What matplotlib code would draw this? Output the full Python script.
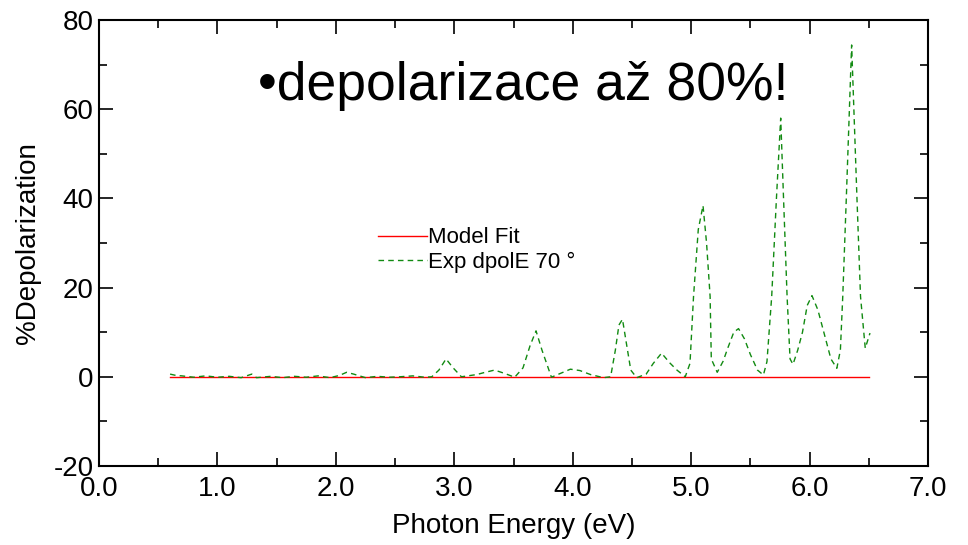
import matplotlib
matplotlib.use("Agg")
import matplotlib.pyplot as plt
from matplotlib.ticker import MultipleLocator

plt.rcParams['font.family'] = ['Liberation Sans', 'DejaVu Sans']
plt.rcParams['axes.unicode_minus'] = False

fit_energy = [0.60, 6.50]
fit_depol = [0.0, 0.0]

exp_energy = [0.60, 0.65, 0.70, 0.80, 0.90, 1.00, 1.10, 1.20, 1.29, 1.33,
              1.45, 1.55, 1.65, 1.75, 1.85, 1.95, 2.03, 2.09, 2.15, 2.25,
              2.35, 2.45, 2.54, 2.65, 2.75, 2.81, 2.87, 2.93, 2.99, 3.06,
              3.19, 3.26, 3.34, 3.42, 3.51, 3.58, 3.64, 3.69, 3.74, 3.82,
              3.90, 3.98, 4.06, 4.15, 4.26, 4.32, 4.36, 4.39, 4.42, 4.45,
              4.49, 4.54, 4.62, 4.68, 4.75, 4.82, 4.88, 4.95, 4.99, 5.02,
              5.06, 5.10, 5.13, 5.16, 5.17, 5.22, 5.27, 5.31, 5.36, 5.40,
              5.45, 5.50, 5.56, 5.61, 5.64, 5.68, 5.72, 5.756, 5.78, 5.81,
              5.835, 5.86, 5.90, 5.94, 5.98, 6.02, 6.07, 6.12, 6.18, 6.23,
              6.26, 6.28, 6.31, 6.355, 6.40, 6.43, 6.47, 6.51]
exp_depol = [0.6, 0.3, 0.2, -0.1, 0.2, -0.1, 0.1, -0.2, 0.6, -0.2,
             0.1, -0.2, 0.1, -0.1, 0.2, -0.2, 0.3, 1.0, 0.6, -0.2,
             0.1, -0.1, 0.0, 0.2, -0.1, 0.0, 1.5, 4.0, 2.0, 0.0,
             0.5, 1.0, 1.5, 0.8, -0.1, 2.0, 7.0, 10.3, 6.0, -0.1,
             0.8, 1.7, 1.4, 0.5, -0.2, 0.0, 6.0, 11.6, 12.9, 8.0,
             1.5, -0.2, 0.6, 3.0, 5.3, 3.1, 1.5, 0.0, 3.0, 18.0,
             33.0, 38.4, 30.0, 18.0, 4.0, 1.0, 3.5, 6.5, 10.0, 10.8,
             8.5, 5.0, 1.5, 0.4, 3.4, 18.0, 40.0, 58.0, 40.0, 18.0,
             4.0, 2.8, 6.0, 10.0, 16.0, 18.2, 15.0, 10.0, 4.0, 1.9,
             6.0, 18.0, 40.0, 74.4, 40.0, 18.0, 6.4, 9.8]

fig = plt.figure(figsize=(9.68, 5.45), dpi=100)
ax = fig.add_axes([0.1023, 0.145, 0.8564, 0.8183])

ax.plot(fit_energy, fit_depol, color='#ff0000', lw=1.0, label='Model Fit')
ax.plot(exp_energy, exp_depol, color='#118a11', lw=1.0, ls=(0, (4, 3)),
        label='Exp dpolE 70 °')

ax.set_xlim(0, 7)
ax.set_ylim(-20, 80)
ax.xaxis.set_major_locator(MultipleLocator(1.0))
ax.xaxis.set_minor_locator(MultipleLocator(0.5))
ax.yaxis.set_major_locator(MultipleLocator(20))
ax.yaxis.set_minor_locator(MultipleLocator(10))
ax.xaxis.set_major_formatter(plt.FuncFormatter(lambda v, p: '%.1f' % v))
ax.tick_params(which='both', direction='in', top=True, right=True,
               labelsize=20, width=1.2)
ax.tick_params(axis='x', pad=7)
ax.tick_params(axis='y', pad=4)
ax.tick_params(which='major', length=10)
ax.tick_params(which='minor', length=5.5)
for s in ax.spines.values():
    s.set_linewidth(1.5)

ax.set_xlabel('Photon Energy (eV)', fontsize=20, labelpad=8)
ax.set_ylabel('%Depolarization', fontsize=20, labelpad=9)

ax.legend(loc='upper left', bbox_to_anchor=(0.326, 0.555), frameon=False,
          fontsize=16, handlelength=2.2, handletextpad=0.05,
          labelspacing=0.15, borderaxespad=0)

ax.text(1.34, 62, '•depolarizace až 80%!', fontsize=38.5, ha='left',
        va='baseline')

fig.savefig('out.png', dpi=100)
